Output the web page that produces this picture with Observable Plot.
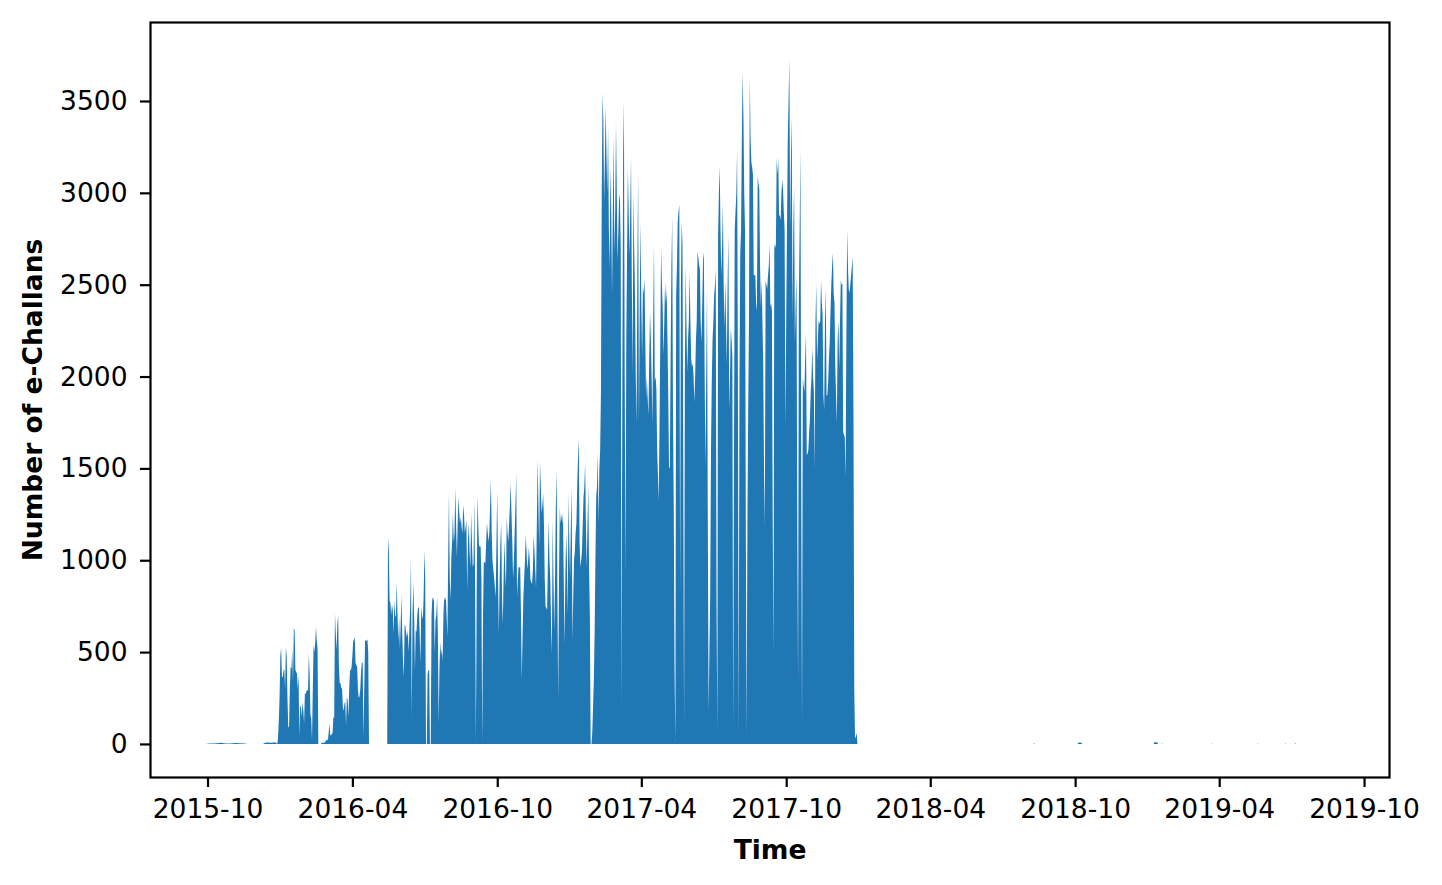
<!DOCTYPE html>
<html>
<head>
<meta charset="utf-8">
<script src="https://cdn.jsdelivr.net/npm/d3@7"></script>
<script src="https://cdn.jsdelivr.net/npm/@observablehq/plot@0.6"></script>
<style>
  html, body { margin: 0; padding: 0; background: #fff; }
  svg { display: block; }
</style>
</head>
<body>
<div id="chart"></div>
<script>
// ---- Data (daily counts of e-Challans) ----
const earlyDates = ["2015-09-29","2015-10-03","2015-10-08","2015-10-13","2015-10-18","2015-10-24","2015-10-30","2015-11-05","2015-11-11","2015-11-17","2015-11-20","2015-12-10","2015-12-13","2015-12-17","2015-12-21","2015-12-25","2015-12-27"];
const earlyValues = [0,3,2,4,6,3,2,5,4,2,0,0,6,8,7,9,5];

const segAStart = "2015-12-28";
const segA = [0,30,120,250,480,523,370,360,400,405,300,528,480,250,90,95,300,420,410,512,340,631,620,403,390,385,300,380,40,210,200,150,230,180,113,277,270,290,294,290,495,380,160,140,20,300,540,500,550,637,560,520,0];

const segBStart = "2016-02-21";
const segB = [0,5,8,3,10,6,15,20,25,18,60,113,50,45,55,60,147,140,713,600,512,650,702,420,332,330,305,300,200,180,220,230,100,256,240,150,300,403,400,420,480,560,567,582,440,430,420,300,250,260,300,400,446,440,40,300,560,566,560,570,500,0];

const segCStart = "2016-05-15";
const segC = [0,1127,1050,780,767,700,760,730,600,784,700,691,882,700,560,691,520,650,811,600,450,365,648,640,600,580,620,500,620,750,1012,147,700,882,700,400,620,610,700,746,740,600,440,746,700,680,800,1056,900,0,0,380,403,400,0];

const segDStart = "2016-07-09";
const segD = [0,700,800,780,800,495,675,700,800,600,113,415,555,480,520,450,700,800,780,800,700,582,1000,1366,900,784,1018,1100,1257,1100,1148,1393,1200,1018,1200,1345,1257,1200,1236,1180,1148,1301,1250,1148,1180,1219,838,1100,1203,1050,963,1257,1100,963,980,1328,900,10,800,1355,1200,1072,1080,1072,900,10,700,985,990,985,1100,1203,1150,1100,1150,1300,1437,1150,1000,950,909,850,800,1100,1383,900,600,900,1100,1203,800,650,900,1110,950,850,1236,1150,1100,1200,1300,1421,1250,1100,900,1000,1150,1300,1475,800,900,963,960,963,700,348,600,800,900,1000,1138,1050,950,1000,1072,1000,893,880,870,950,1138,1050,950,850,1200,1546,1300,1072,1535,1400,1257,1300,1366,1200,900,750,740,729,1000,1219,1000,900,650,495,1219,900,620,900,1300,1491,800,240,900,1290,1200,1250,1200,1257,900,540,900,1150,1000,700,1366,1100,900,1200,1393,566,800,1000,1050,1150,1200,1400,1550,1666,1100,963,1000,1050,1200,1345,1400,1530,1200,960,1200,1400,950,700,0];

const segEStart = "2017-01-28";
const segE = [0,60,200,343,600,1000,1345,1400,1580,1200,1500,1600,1910,3000,3544,3400,2960,3200,3473,3195,3000,3359,2800,2585,3146,2900,2444,2900,3310,2678,2900,3381,3000,2635,2800,2994,2960,2700,201,2000,3200,3500,2000,925,2200,2678,3135,2900,2656,2900,3195,2500,2025,3005,2700,2444,2000,1742,2600,3103,1742,2400,2842,2400,2096,2493,2450,2537,2200,1883,2000,1883,1790,2100,2352,2210,2000,1742,2300,2727,1976,2000,1932,1600,1464,1323,1742,2200,2700,2500,2373,2117,2300,2515,2400,2471,2210,1900,1508,1500,2100,2600,2869,1800,1274,400,16,2444,2600,2842,2900,2934,811,2500,2842,2727,1500,109,2000,2607,2300,2025,2200,2300,2564,2300,2096,2050,2074,2000,1862,2000,2200,2302,2678,2650,2607,2585,2300,2188,2400,2635,2678,2000,1508,2000,2493,1200,180,500,811,1600,1976,2200,2302,2444,2500,2585,800,65,2771,3000,3146,2800,2553,2700,2945,2500,2259,2526,2300,2063,2500,2771,1818,2000,2259,2200,2112,103,1500,2798,2900,2994,3239,2000,50,2000,2673,2798,3300,3658,3413,3000,2798,1200,50,1200,1818,2308,3631,3300,3168,3140,3100,2553,2550,2553,2400,2357,3092,3050,3021,2600,2379,2526,2300,2063,1500,1181,2526,2500,2477,2550,2600,2722,2379,2400,2357,1200,495,2722,2700,2722,3190,3100,3190,2874,2880,2850,3000,3070,3021,2900,2798,1720,2300,2798,3288,3500,3729,2798,3200,3413,2308,2800,3043,2188,2400,2553,1200,348,2406,2800,3239,1500,103,1992,1950,1916,2100,2237,1573,1580,1600,1700,1769,1916,2000,2161,2000,1916,1497,2300,2504,2090,2200,2308,2286,2300,2526,2400,2335,1900,1818,2300,2477,1894,1900,1965,2100,2188,2357,2500,2600,2673,2450,2406,2063,1900,1747,2200,2308,2041,2300,2526,2500,2504,1698,1680,1671,1453,2200,2798,2600,2477,2455,2500,2553,2600,2651,1800,300,30,40,60,0];

const lateDates = ["2018-01-01","2018-08-09","2018-08-10","2018-08-11","2018-10-04","2018-10-05","2018-10-07","2018-10-09","2018-10-10","2019-01-08","2019-01-09","2019-01-11","2019-01-13","2019-01-14","2019-01-18","2019-01-19","2019-01-20","2019-03-22","2019-03-23","2019-03-24","2019-05-19","2019-05-20","2019-05-21","2019-06-23","2019-06-24","2019-06-25","2019-07-05","2019-07-06","2019-07-07","2019-08-22"];
const lateValues = [0,0,4,0,0,6,8,6,0,0,8,10,7,0,0,3,0,0,3,0,0,3,0,0,3,0,0,4,0,0];

const xTickLabels = ["2015-10","2016-04","2016-10","2017-04","2017-10","2018-04","2018-10","2019-04","2019-10"];
const yTicks = [0,500,1000,1500,2000,2500,3000,3500];

// ---- Build the table ----
const day = 864e5;
const parse = s => new Date(s + "T00:00:00Z");
const rows = [];
earlyDates.forEach((d, i) => rows.push({date: parse(d), value: earlyValues[i]}));
function addSeg(start, values) {
  const t0 = parse(start).getTime();
  values.forEach((v, i) => rows.push({date: new Date(t0 + i * day), value: v}));
}
addSeg(segAStart, segA);
addSeg(segBStart, segB);
addSeg(segCStart, segC);
addSeg(segDStart, segD);
addSeg(segEStart, segE);
lateDates.forEach((d, i) => rows.push({date: parse(d), value: lateValues[i]}));
rows.sort((a, b) => a.date - b.date);

const xTicks = xTickLabels.map(s => parse(s + "-01"));
const fmt = d3.utcFormat("%Y-%m");
const FS = 26.5;

const chart = Plot.plot({
  width: 1442,
  height: 885,
  marginLeft: 150,
  marginRight: 53,
  marginTop: 22,
  marginBottom: 108,
  style: {fontFamily: "'DejaVu Sans', sans-serif", fontSize: FS + "px", color: "black", background: "white"},
  x: {type: "utc", domain: [new Date("2015-07-20T08:00:00Z"), new Date("2019-11-01T12:00:00Z")]},
  y: {domain: [-180, 3930]},
  marks: [
    Plot.areaY(rows, {x: "date", y: "value", fill: "#1f77b4", curve: "linear"}),
    Plot.frame({stroke: "black", strokeWidth: 2.2}),
    Plot.axisX({ticks: xTicks, tickFormat: fmt, tickSize: 10, tickPadding: 12, fontSize: FS, label: null, strokeWidth: 2.2}),
    Plot.axisY({ticks: yTicks, tickFormat: d => String(d), tickSize: 10, tickPadding: 13, fontSize: FS, label: null, strokeWidth: 2.2}),
    Plot.text(["Time"], {text: d => d, frameAnchor: "bottom", dy: 81, fontWeight: "bold", fontSize: FS}),
    Plot.text(["Number of e-Challans"], {text: d => d, frameAnchor: "left", textAnchor: "middle", rotate: -90, dx: -117, fontWeight: "bold", fontSize: FS})
  ]
});
document.getElementById("chart").appendChild(chart);
</script>
</body>
</html>
